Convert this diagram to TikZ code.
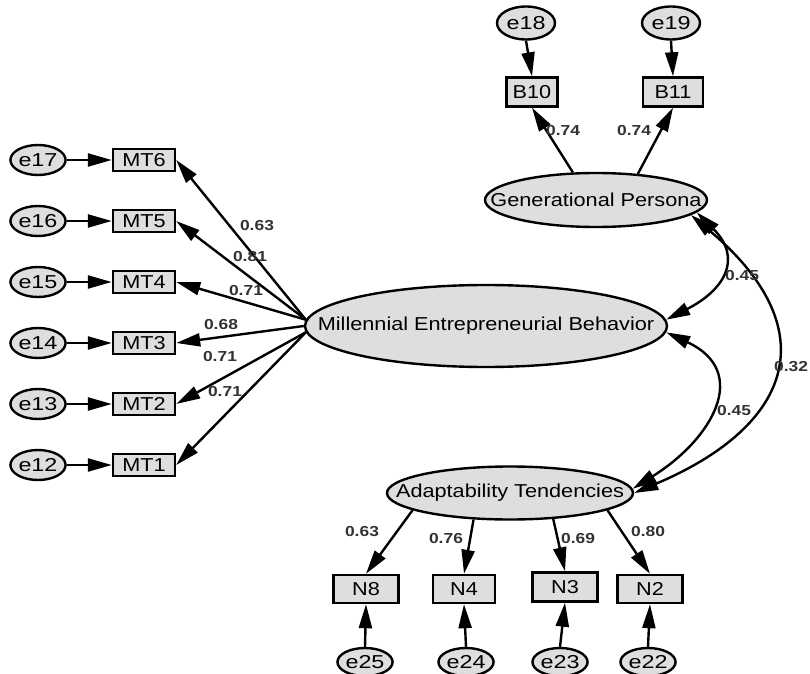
\documentclass[tikz,border=0pt]{standalone}
\usepackage{fontspec}
\setmainfont{Liberation Sans}
\newfontfamily\latfont[FakeStretch=1.16]{Liberation Sans}
\newfontfamily\errfont[FakeStretch=1.25]{Liberation Sans}
\newfontfamily\numfont[FakeStretch=1.2]{Liberation Sans}
\usetikzlibrary{shapes.geometric,arrows.meta}
\definecolor{boxfill}{RGB}{222,222,222}
\definecolor{numgray}{RGB}{50,50,50}
\tikzset{
  headtip/.tip={Triangle[length=24pt,width=13pt]},
}
\begin{document}
\begin{tikzpicture}[x=1pt,y=1pt,
  line width=2.4pt,
  latent/.style={ellipse,draw,fill=boxfill,inner sep=0pt,line width=2.4pt,
    font=\latfont\fontsize{18.7}{20}\selectfont},
  observed/.style={rectangle,draw,fill=boxfill,inner sep=0pt,line width=2.4pt,
    font=\latfont\fontsize{18.7}{20}\selectfont},
  errvar/.style={ellipse,draw,fill=boxfill,inner sep=0pt,line width=2.4pt,
    minimum height=30pt,
    font=\errfont\fontsize{18.7}{20}\selectfont},
  weight/.style={inner sep=0pt,text=numgray,
    font=\numfont\bfseries\fontsize{14.5}{15}\selectfont},
  loading/.style={line width=2.4pt,-headtip},
  corr/.style={line width=2.4pt,headtip-headtip}
]
\useasboundingbox (0,0) rectangle (810,673);

% latent constructs
\node[latent,minimum width=362pt,minimum height=82pt] (meb) at (486,347)
  {\makebox[0pt]{Millennial Entrepreneurial Behavior}};
\node[latent,minimum width=222pt,minimum height=54pt] (gp) at (596,473)
  {\makebox[0pt]{Generational Persona}};
\node[latent,minimum width=246pt,minimum height=53pt] (at) at (510,180)
  {\makebox[0pt]{Adaptability Tendencies}};

% indicators of Millennial Entrepreneurial Behavior
\foreach \k/\y in {6/513,5/452,4/391,3/330,2/269,1/208}{
  \node[observed,minimum width=62pt,minimum height=22pt] (mt\k) at (144,\y) {MT\k};
}
\foreach \e/\k/\y in {17/6/513,16/5/452,15/4/391,14/3/330,13/2/269,12/1/208}{
  \node[errvar,minimum width=53pt] (e\e) at (38,\y) {e\e};
  \draw[loading] (e\e.east) -- (mt\k.west);
}
\draw[loading] (meb.178) -- (mt6.east);
\draw[loading] (meb.178) -- (mt5.east);
\draw[loading] (meb.178) -- (mt4.east);
\draw[loading] (meb.180) -- (mt3.east);
\draw[loading] (meb.182) -- (mt2.east);
\draw[loading] (meb.182) -- (mt1.east);

\node[weight] (wmt6) at (257,447) {0.63};
\node[weight] (wmt5) at (250,416) {0.81};
\node[weight] (wmt4) at (246,382) {0.71};
\node[weight] (wmt3) at (221,348) {0.68};
\node[weight] (wmt2) at (220,316) {0.71};
\node[weight] (wmt1) at (225,281) {0.71};

% indicators of Generational Persona
\node[observed,minimum width=51pt,minimum height=29pt] (b10) at (532,581) {B10};
\node[observed,minimum width=60pt,minimum height=29pt] (b11) at (673,581) {B11};
\node[errvar,minimum width=58pt,minimum height=33pt] (e18) at (526,650) {e18};
\node[errvar,minimum width=58pt,minimum height=33pt] (e19) at (671,650) {e19};
\draw[loading] (e18.south) -- (b10.north);
\draw[loading] (e19.south) -- (b11.north);
\draw[loading] (gp.130) -- (b10.south);
\draw[loading] (gp.32) -- (b11.south);
\node[weight] (wb10) at (563,542) {0.74};
\node[weight] (wb11) at (634,542) {0.74};

% indicators of Adaptability Tendencies
\node[observed,minimum width=65pt,minimum height=28pt] (n8) at (366,84) {N8};
\node[observed,minimum width=62pt,minimum height=28pt] (n4) at (464,84) {N4};
\node[observed,minimum width=65pt,minimum height=29pt] (n3) at (565,86) {N3};
\node[observed,minimum width=65pt,minimum height=28pt] (n2) at (650,84) {N2};
\node[errvar,minimum width=50pt,minimum height=28pt] (e25) at (365,11) {e25};
\node[errvar,minimum width=52pt,minimum height=28pt] (e24) at (466,11) {e24};
\node[errvar,minimum width=54pt,minimum height=28pt] (e23) at (560,11) {e23};
\node[errvar,minimum width=53pt,minimum height=28pt] (e22) at (648,11) {e22};
\draw[loading] (at.190) -- (n8.north);
\draw[loading] (at.216) -- (n4.north);
\draw[loading] (at.-31) -- (n3.north);
\draw[loading] (at.-10) -- (n2.north);
\draw[loading] (e25.north) -- (n8.south);
\draw[loading] (e24.north) -- (n4.south);
\draw[loading] (e23.north) -- (n3.south);
\draw[loading] (e22.north) -- (n2.south);
\node[weight] (wn8) at (362,141) {0.63};
\node[weight] (wn4) at (446,134) {0.76};
\node[weight] (wn3) at (578,134) {0.69};
\node[weight] (wn2) at (648,141) {0.80};

% correlations between constructs
\draw[corr] (gp.-7) to[out=-45,in=27,looseness=1.5] (meb.2);
\draw[corr] (meb.-2) to[out=-25,in=32,looseness=1.5] (at.2);
\draw[corr] (gp.-9) to[out=-40,in=23,looseness=1.58] (at.0);
\node[weight] (wc1) at (742,397) {0.45};
\node[weight] (wc2) at (791,306) {0.32};
\node[weight] (wc3) at (734,262) {0.45};
\end{tikzpicture}
\end{document}
